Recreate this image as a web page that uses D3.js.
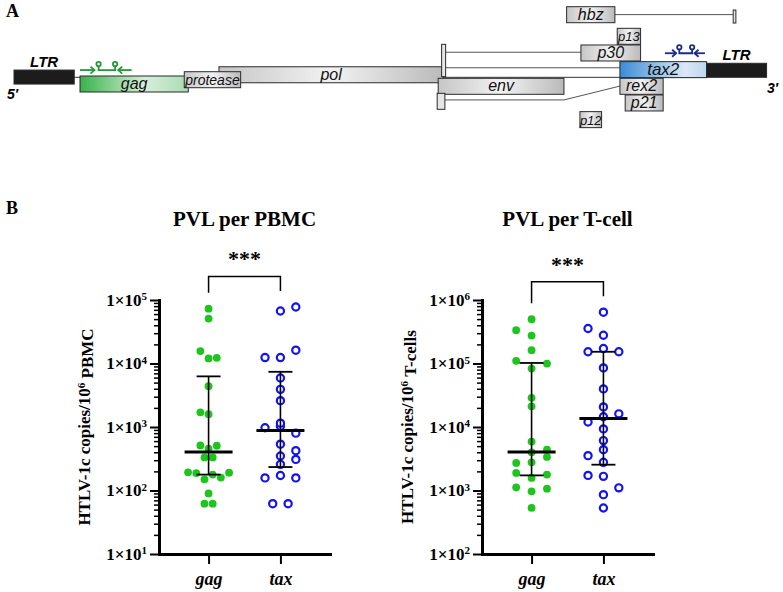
<!DOCTYPE html>
<html>
<head>
<meta charset="utf-8">
<script src="https://cdn.jsdelivr.net/npm/d3@7"></script>
<style>
  body { margin: 0; background: #fff; }
  .sans { font-family: 'Liberation Sans', Arial, sans-serif; }
  .serif { font-family: 'Liberation Serif', 'Times New Roman', serif; font-weight: bold; }
</style>
</head>
<body>
<div id="chart"></div>
<script>
// ---------- A: HTLV-1c provirus map (nt along ~9 kb) ----------
const geneNames = ['LTR', 'gag', 'pol', 'protease', 'env', 'hbz', 'p13', 'p30', 'tax2', 'LTR', 'rex2', 'p21', 'p12'];
const geneStart = [0, 789, 2450, 2035, 5070, 6605, 7210, 6776, 7242, 8278, 7242, 7305, 6764];
const geneEnd = [720, 2083, 5130, 2709, 6573, 7182, 7489, 7489, 8278, 8995, 7759, 7759, 7023];
const geneTrack = [3.84, 4.2, 3.64, 3.94, 4.34, 0, 1.31, 2.32, 3.33, 3.43, 4.34, 5.35, 6.36];
// small spliced exons
const exonStart = [5111, 5058, 8596];
const exonEnd = [5159, 5150, 8628];
const exonTop = [2.28, 5.25, 0.2];
const exonBottom = [4.24, 6.22, 0.99];
// introns, as [nt, track] points
const intronPaths = [
  [[7182, 0.48], [8596, 0.48]],
  [[5159, 2.76], [6776, 2.76]],
  [[5159, 3.7], [7242, 3.7]],
  [[5150, 5.65], [6573, 5.65], [7242, 4.81]],
];
const primerStart = [789, 7780];
const primerEnd = [1406, 8258];
const primerTrack = [3.84, 2.82];
const primerColors = ['#1f9a33', '#1c2a8c'];

// ---------- B: proviral load ----------
const categories = ['gag', 'tax'];
const pbmcGag = [73000, 51000, 15700, 12000, 12300, 4400, 1700, 1590, 513, 455, 507, 332, 332, 193, 188, 150, 178, 160, 191, 90, 62, 62];
const pbmcTax = [67100, 77600, 12400, 12400, 16200, 5900, 3920, 2600, 973, 1030, 800, 1150, 537, 349, 424, 258, 309, 158, 172, 158, 62, 62];
const pbmcMedian = [403, 880];
const pbmcLower = [178, 234];
const pbmcUpper = [6270, 7400];
const pbmcTicks = [1e1, 1e2, 1e3, 1e4, 1e5];
const tcellGag = [498000, 334000, 275000, 162000, 110000, 83200, 99800, 28800, 21200, 5890, 3990, 4400, 2720, 2780, 3380, 1890, 1580, 1780, 1120, 970, 1070, 531];
const tcellTax = [643000, 356000, 279000, 153000, 172000, 153000, 85300, 39800, 20700, 12000, 14500, 16100, 9330, 6110, 4400, 3540, 2780, 1730, 1670, 860, 1100, 531];
const tcellMedian = [4050, 13600];
const tcellLower = [1730, 2550];
const tcellUpper = [102000, 153000];
const tcellTicks = [1e2, 1e3, 1e4, 1e5, 1e6];
const panelTitles = ['PVL per PBMC', 'PVL per T-cell'];
const yLabelUnits = ['PBMC', 'T-cells'];
const pLabel = '***';

const svg = d3.select('#chart').append('svg').attr('width', 783).attr('height', 592);
const defs = svg.append('defs');
function grad(id, stops) {
  const g = defs.append('linearGradient').attr('id', id).attr('x1', 0).attr('x2', 1).attr('y1', 0).attr('y2', 0);
  stops.forEach(([o, c]) => g.append('stop').attr('offset', o).attr('stop-color', c));
}
grad('gGray', [[0, '#c6c6c6'], [0.5, '#f2f2f2'], [1, '#bababa']]);
grad('gGag', [[0, '#37b34a'], [0.6, '#d7efd9'], [1, '#a9dcb0']]);
grad('gTax', [[0, '#3a8bd6'], [0.75, '#dbe8f6'], [1, '#bed7ee']]);

svg.append('text').attr('class', 'serif').attr('x', 6).attr('y', 17).attr('font-size', 18).text('A');
svg.append('text').attr('class', 'serif').attr('x', 6).attr('y', 214).attr('font-size', 18).text('B');

// ---- map ----
const gx = d3.scaleLinear().domain([0, 9000]).range([14, 767]);
const gy = d3.scaleLinear().domain([0, 1]).range([6.7, 23.2]);
const mapA = svg.append('g').attr('class', 'sans');

mapA.append('line')
  .attr('x1', gx(geneEnd[0])).attr('x2', gx(geneStart[9]))
  .attr('y1', gy(4.28)).attr('y2', gy(4.28))
  .attr('stroke', '#333').attr('stroke-width', 1);

mapA.selectAll('path.intron').data(intronPaths).join('path')
  .attr('class', 'intron')
  .attr('d', d3.line().x((d) => gx(d[0])).y((d) => gy(d[1])))
  .attr('fill', 'none').attr('stroke', '#555').attr('stroke-width', 1);

const genes = geneNames.map((name, i) => ({ name, start: geneStart[i], end: geneEnd[i], track: geneTrack[i] }));
const fillFor = (d) => (d.name === 'LTR' ? '#1c1c1c' : d.name === 'gag' ? 'url(#gGag)' : d.name === 'tax2' ? 'url(#gTax)' : 'url(#gGray)');
const labelSize = (d) => (d.name === 'protease' ? 14 : d.name === 'p13' || d.name === 'p12' ? 13 : d.name === 'tax2' ? 17 : 16);
mapA.selectAll('rect.gene').data(genes).join('rect')
  .attr('class', 'gene')
  .attr('x', (d) => gx(d.start))
  .attr('y', (d) => gy(d.track))
  .attr('width', (d) => gx(d.end) - gx(d.start))
  .attr('height', (d) => (d.name === 'LTR' ? 14 : 16))
  .attr('fill', fillFor)
  .attr('stroke', '#2a2a2a').attr('stroke-width', 1);

mapA.selectAll('text.gene').data(genes.filter((d) => d.name !== 'LTR')).join('text')
  .attr('class', 'gene')
  .attr('x', (d) => (gx(d.start) + gx(d.end)) / 2)
  .attr('y', (d) => gy(d.track) + 13)
  .attr('text-anchor', 'middle')
  .attr('font-style', 'italic')
  .attr('font-size', labelSize)
  .attr('fill', '#111')
  .text((d) => d.name);

mapA.selectAll('text.ltr').data(genes.filter((d) => d.name === 'LTR')).join('text')
  .attr('class', 'ltr')
  .attr('x', (d) => (gx(d.start) + gx(d.end)) / 2)
  .attr('y', (d) => gy(d.track) - 3)
  .attr('text-anchor', 'middle')
  .attr('font-style', 'italic').attr('font-weight', 'bold').attr('font-size', 15)
  .text((d) => d.name);

mapA.append('text').attr('x', gx(0) - 7).attr('y', 99).attr('font-style', 'italic').attr('font-weight', 'bold').attr('font-size', 14).text('5\u2032');
mapA.append('text').attr('x', gx(9000)).attr('y', 93).attr('font-style', 'italic').attr('font-weight', 'bold').attr('font-size', 14).text('3\u2032');

mapA.selectAll('rect.exon').data(exonStart).join('rect')
  .attr('class', 'exon')
  .attr('x', (d) => gx(d))
  .attr('y', (d, i) => gy(exonTop[i]))
  .attr('width', (d, i) => gx(exonEnd[i]) - gx(d))
  .attr('height', (d, i) => gy(exonBottom[i]) - gy(exonTop[i]))
  .attr('fill', '#e6e6e6').attr('stroke', '#2a2a2a').attr('stroke-width', 1);

// primer / probe sets
primerStart.forEach((s, i) => {
  const a = gx(s), b = gx(primerEnd[i]), w = b - a, y = gy(primerTrack[i]);
  const pg = mapA.append('g').attr('stroke', primerColors[i]).attr('fill', 'none').attr('stroke-width', 1.8);
  pg.append('line').attr('x1', a).attr('x2', a + 0.28 * w).attr('y1', y).attr('y2', y);
  pg.append('path').attr('d', `M${a + 0.28 * w - 4},${y - 3.5}L${a + 0.28 * w},${y}L${a + 0.28 * w - 4},${y + 3.5}`);
  pg.append('line').attr('x1', b).attr('x2', b - 0.26 * w).attr('y1', y).attr('y2', y);
  pg.append('path').attr('d', `M${b - 0.26 * w + 4},${y - 3.5}L${b - 0.26 * w},${y}L${b - 0.26 * w + 4},${y + 3.5}`);
  pg.append('path').attr('d', `M${a + 0.36 * w},${y - 4}V${y}H${a + 0.68 * w}V${y - 4}`);
  [0.36, 0.68].forEach((f) => pg.append('circle').attr('cx', a + f * w).attr('cy', y - 6).attr('r', 2.2));
});

// ---- scatter panels ----
const yTop = 300, yBottom = 554, axisLen = 171;
const panels = [
  { x0: 159, title: panelTitles[0], unit: yLabelUnits[0], ticks: pbmcTicks, series: [pbmcGag, pbmcTax], median: pbmcMedian, lower: pbmcLower, upper: pbmcUpper },
  { x0: 482, title: panelTitles[1], unit: yLabelUnits[1], ticks: tcellTicks, series: [tcellGag, tcellTax], median: tcellMedian, lower: tcellLower, upper: tcellUpper },
];

// Prism-like column scatter: rows of close values spread sideways
function swarm(values, y) {
  const order = d3.range(values.length).sort((a, b) => values[a] - values[b]);
  const bins = [];
  let cur = null;
  order.forEach((i) => {
    if (cur && cur.y0 - y(values[i]) <= 8) cur.items.push(i);
    else { cur = { y0: y(values[i]), items: [i] }; bins.push(cur); }
  });
  const slot = [];
  bins.forEach((b) => {
    const items = b.items.slice().sort((a, c) => a - c);
    const n = items.length;
    if (n === 2 && values[items[0]] !== values[items[1]]) {
      const lo = values[items[0]] < values[items[1]] ? 0 : 1;
      slot[items[lo]] = 0;
      slot[items[1 - lo]] = lo === 0 ? 1 : -1;
    } else {
      items.forEach((it, k) => (slot[it] = k - (n - 1) / 2));
    }
  });
  const maxN = d3.max(bins, (b) => b.items.length);
  const spacing = maxN > 1 ? Math.min(15.4, 41 / (maxN - 1)) : 0;
  return slot.map((s) => s * spacing);
}

panels.forEach((p) => {
  const g = svg.append('g').attr('class', 'serif').attr('transform', `translate(${p.x0},0)`);
  const y = d3.scaleLog().domain(d3.extent(p.ticks)).range([yBottom, yTop]);
  const x = d3.scalePoint().domain(categories).range([0, axisLen]).padding(0.69);

  const minors = [];
  p.ticks.slice(0, -1).forEach((t) => d3.range(2, 10).forEach((k) => minors.push(t * k)));
  const minorAxis = g.append('g').call(d3.axisLeft(y).tickValues(minors).tickSize(5).tickFormat(''));
  minorAxis.select('.domain').remove();
  minorAxis.selectAll('line').attr('stroke-width', 1.5);

  const yAxis = g.append('g')
    .call(d3.axisLeft(y).tickValues(p.ticks).tickSize(9).tickSizeOuter(0).tickPadding(3))
    .attr('font-family', null).attr('font-size', 17);
  yAxis.select('.domain').attr('stroke-width', 3).attr('stroke-linecap', 'square');
  yAxis.selectAll('.tick line').attr('stroke-width', 2);
  yAxis.selectAll('.tick text').attr('fill', '#000').each(function (d) {
    const t = d3.select(this).text(null);
    t.append('tspan').text('1\u00d710');
    t.append('tspan').attr('dy', '-0.5em').attr('font-size', 11).text(Math.round(Math.log10(d)));
  });

  const xAxis = g.append('g').attr('transform', `translate(0,${yBottom})`)
    .call(d3.axisBottom(x).tickSize(10).tickSizeOuter(0).tickPadding(8))
    .attr('font-family', null).attr('font-size', 18);
  xAxis.select('.domain').attr('stroke-width', 3).attr('stroke-linecap', 'square');
  xAxis.selectAll('.tick line').attr('stroke-width', 2);
  xAxis.selectAll('.tick text').attr('fill', '#000').attr('font-style', 'italic');

  g.append('text')
    .attr('transform', `translate(-69,${(yTop + yBottom) / 2}) rotate(-90)`)
    .attr('text-anchor', 'middle').attr('font-size', 17)
    .call((t) => {
      t.append('tspan').text('HTLV-1c copies/10');
      t.append('tspan').attr('dy', '-0.5em').attr('font-size', 11).text('6');
      t.append('tspan').attr('dy', '0.5em').text('\u00a0' + p.unit);
    });

  g.append('text').attr('x', axisLen / 2).attr('y', 226).attr('text-anchor', 'middle').attr('font-size', 21).text(p.title);

  // points
  p.series.forEach((vals, si) => {
    const dx = swarm(vals, y);
    g.append('g').selectAll('circle').data(vals).join('circle')
      .attr('cx', (d, i) => x(categories[si]) + dx[i])
      .attr('cy', (d) => y(d))
      .attr('r', si === 0 ? 3.9 : 3.6)
      .attr('fill', si === 0 ? '#1fc41f' : '#fff')
      .attr('stroke', si === 0 ? 'none' : '#1414f0')
      .attr('stroke-width', 2.2);
  });

  // median with interquartile range
  categories.forEach((c, i) => {
    const cx = x(c);
    const eb = g.append('g').attr('stroke', '#000');
    eb.append('line').attr('x1', cx).attr('x2', cx).attr('y1', y(p.upper[i])).attr('y2', y(p.lower[i])).attr('stroke-width', 1.6);
    [p.upper[i], p.lower[i]].forEach((v) => eb.append('line').attr('x1', cx - 12).attr('x2', cx + 12).attr('y1', y(v)).attr('y2', y(v)).attr('stroke-width', 1.8));
    eb.append('line').attr('x1', cx - 24).attr('x2', cx + 24).attr('y1', y(p.median[i])).attr('y2', y(p.median[i])).attr('stroke-width', 3);
  });

  // significance bracket
  const legs = p.series.map((vals) => y(d3.max(vals)) - 16);
  const barY = d3.min(legs) - 14.5;
  g.append('path')
    .attr('d', `M${x(categories[0])},${legs[0]}V${barY}H${x(categories[1])}V${legs[1]}`)
    .attr('fill', 'none').attr('stroke', '#000').attr('stroke-width', 1.5);
  g.append('text').attr('x', (x(categories[0]) + x(categories[1])) / 2).attr('y', barY - 10)
    .attr('text-anchor', 'middle').attr('font-size', 22).text(pLabel);
});
</script>
</body>
</html>
